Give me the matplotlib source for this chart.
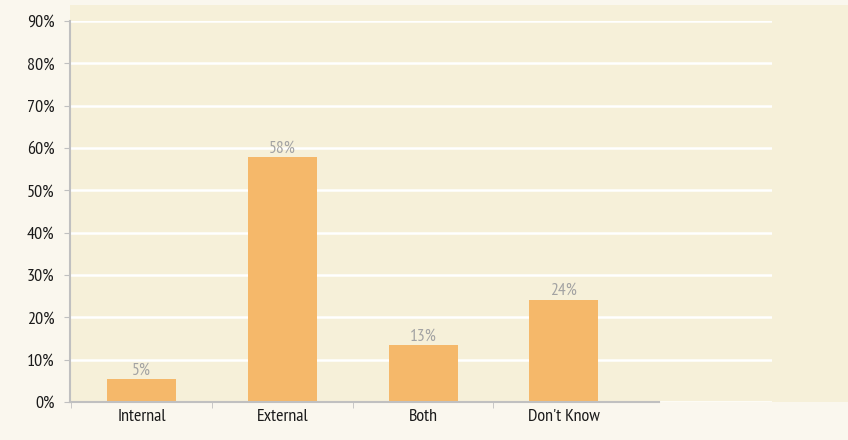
import matplotlib
matplotlib.use("Agg")
import matplotlib.pyplot as plt
from matplotlib.patches import Rectangle
from matplotlib.ticker import PercentFormatter

categories = ["Internal", "External", "Both", "Don't Know"]
shares = [0.054, 0.578, 0.134, 0.241]
y_ticks = [0, 0.1, 0.2, 0.3, 0.4, 0.5, 0.6, 0.7, 0.8, 0.9]

plt.rcParams["font.family"] = ["PT Sans Narrow", "DejaVu Sans"]

W, H = 848, 440
fig = plt.figure(figsize=(W / 100, H / 100), dpi=100, facecolor="#faf7ee")

# beige panel behind the plot
fig.patches.append(Rectangle((70 / W, 38 / H), 1 - 70 / W, (435 - 38) / H,
                             transform=fig.transFigure, facecolor="#f6f0d9",
                             edgecolor="none", zorder=-5))

ax = fig.add_axes([70 / W, 38 / H, (772 - 70) / W, (402 - 21) / H])
ax.set_facecolor("none")
ax.set_zorder(2)

x = list(range(len(categories)))
bars = ax.bar(x, shares, width=0.49, color="#f5b86a", zorder=3)
for b, v in zip(bars, shares):
    ax.text(b.get_x() + b.get_width() / 2, v + 0.002, f"{v:.0%}",
            ha="center", va="bottom", fontsize=12.5, color="#a3a3a3", zorder=4)

ax.set_xlim(-0.51, 4.48)
ax.set_ylim(0, 0.9)
ax.set_yticks(y_ticks)
ax.yaxis.set_major_formatter(PercentFormatter(1.0, decimals=0))
ax.grid(axis="y", color="white", linewidth=1.8, zorder=1)
ax.set_axisbelow(True)

ax.set_xticks(x)
ax.set_xticklabels(categories)
ax.set_xticks([-0.5, 0.5, 1.5, 2.5], minor=True)
ax.tick_params(axis="x", which="major", length=0, labelsize=13, pad=5, labelcolor="#1a1a1a")
ax.tick_params(axis="x", which="minor", length=4, color="#c0c0c0", direction="out")
ax.tick_params(axis="y", length=4, color="#c0c0c0", labelsize=13, pad=7, labelcolor="#1a1a1a")

for s in ["top", "right"]:
    ax.spines[s].set_visible(False)
ax.spines["left"].set_color("#c0c0c0")
ax.spines["bottom"].set_color("#c0c0c0")
ax.spines["left"].set_linewidth(1.5)
ax.spines["bottom"].set_linewidth(1.5)
ax.spines["bottom"].set_bounds(-0.51, 3.68)
ax.spines["bottom"].set_zorder(5)

fig.savefig("out.png", dpi=100, facecolor=fig.get_facecolor())
